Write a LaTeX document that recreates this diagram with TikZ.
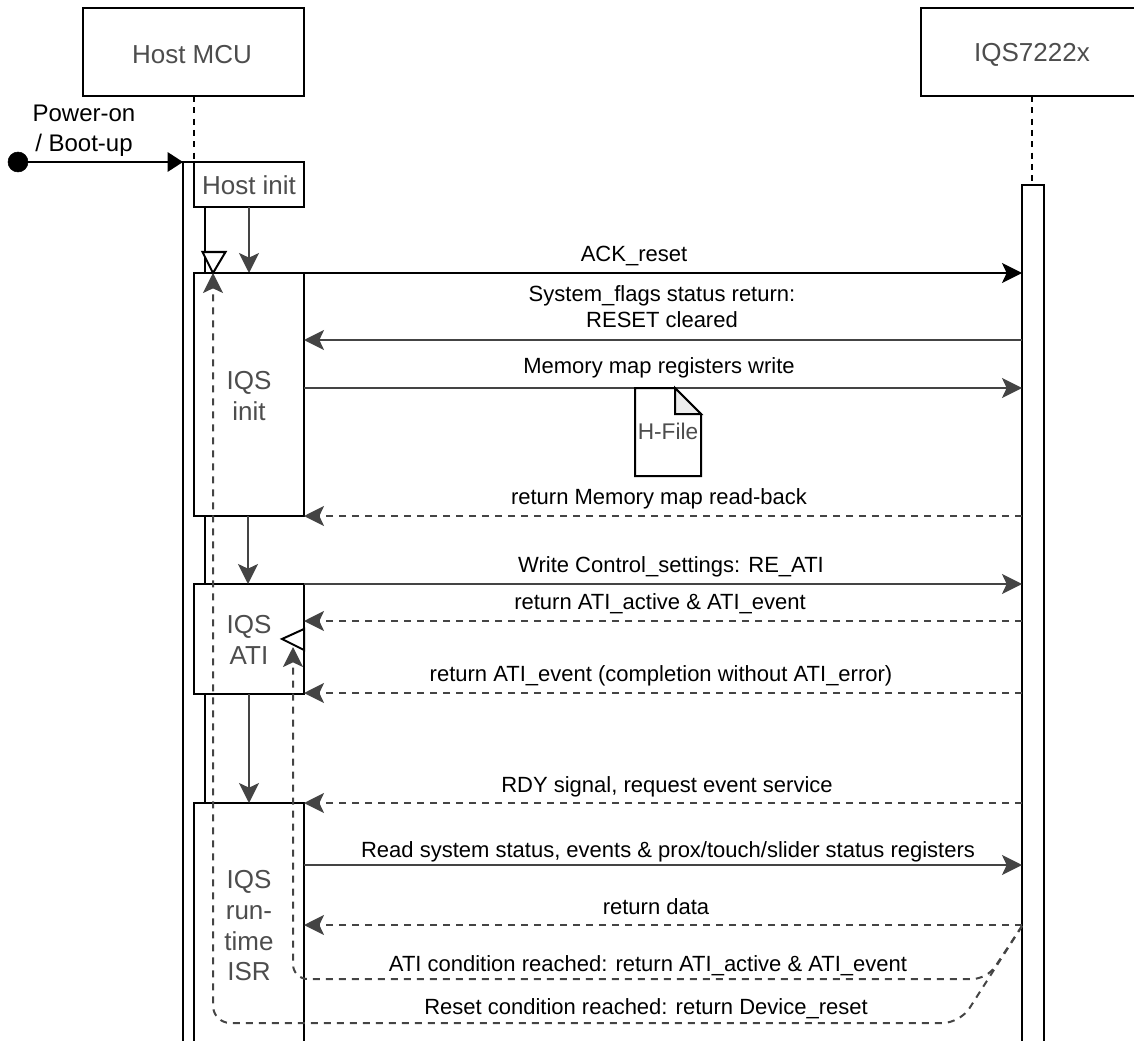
\documentclass[tikz,border=0pt]{standalone}
\usepackage{fontspec}
\setmainfont{Liberation Sans}
\usetikzlibrary{arrows.meta,calc}
\definecolor{edgegray}{HTML}{444444}
\definecolor{boxtext}{HTML}{4D4D4D}
\tikzset{
  barbox/.style={draw=black,line width=1.5pt,fill=white,inner sep=0pt,outer sep=0pt,anchor=north west},
  boxlabel/.style={text=boxtext,font=\fontsize{19.5}{23}\selectfont,align=center,inner sep=0pt},
  life/.style={draw=black,line width=1.5pt,dash pattern=on 4.5pt off 4pt},
  tip/.style={-{Stealth[length=15pt,width=15pt,inset=3.5pt]}},
  flow/.style={draw=edgegray,line width=1.5pt,tip},
  msg/.style={flow},
  ret/.style={flow,dash pattern=on 5.25pt off 4.5pt},
  lab/.style={font=\fontsize{16.5}{19.5}\selectfont,text=black,align=center,inner sep=0pt},
  openmark/.style={draw=black,line width=1.5pt,fill=white,line join=miter},
}
\begin{document}
\begin{tikzpicture}[x=0.75pt,y=-0.75pt]
\useasboundingbox (0,0) rectangle (1134,1041);
\clip (0,0) rectangle (1134,1041);
% head boxes
\node[barbox,minimum width=165.75pt,minimum height=66pt] (host) at (83,8) {};
\node[barbox,minimum width=165.75pt,minimum height=66pt] (dev) at (921,8) {};
\node[boxlabel] (hostt) at (192,55) {Host MCU};
\node[boxlabel] (devt) at (1032,55) {IQS7222x};
% activation bars
\node[barbox,minimum width=16.5pt,minimum height=675pt] (lbar) at (183,162) {};
\node[barbox,minimum width=16.5pt,minimum height=675pt] (rbar) at (1022,185) {};
% lifelines
\coordinate (lltop) at (194,162);
\coordinate (rltop) at (1032,185);
\draw[life] (host.south -| lltop) -- (lltop);
\draw[life] (dev.south -| rltop) -- (rltop);
% activity boxes
\node[barbox,minimum width=82.5pt,minimum height=33.75pt] (hinit) at (194,162) {};
\node[barbox,minimum width=82.5pt,minimum height=182.25pt] (init) at (194,273) {};
\node[barbox,minimum width=82.5pt,minimum height=82.5pt] (ati) at (194,584) {};
\node[barbox,minimum width=82.5pt,minimum height=225pt] (isr) at (194,803) {};
\node[boxlabel] (hinitt) at (249,185) {Host init};
\node[boxlabel] (initt) at (249,396) {IQS\\init};
\node[boxlabel] (atit) at (249,640) {IQS\\ATI};
\node[boxlabel] (isrt) at (249,926) {IQS\\run-\\time\\ISR};
% start
\node[circle,fill=black,draw=black,minimum size=15pt,inner sep=0pt,outer sep=0pt] (start) at (18,162) {};
\node[font=\fontsize{18}{22.5}\selectfont,align=center,inner sep=0pt] (power) at (84,131) {Power-on\\/ Boot-up};
\draw[line width=1.5pt,draw=black,-{Triangle[length=11.5pt,width=14.5pt]}] (start) -- (lbar.north west);
% flow between activity boxes
\coordinate (f1) at (249,0);
\coordinate (f2) at (248,0);
\draw[flow] (hinit.south -| f1) -- (init.north -| f1);
\draw[flow] (init.south -| f2) -- (ati.north -| f2);
\draw[flow] (ati.south -| f1) -- (isr.north -| f1);
% messages
\coordinate (xl) at (205,273);
\coordinate (m2) at (0,340);
\coordinate (m3) at (0,388);
\coordinate (m4) at (0,516);
\coordinate (m5) at (0,584);
\coordinate (m6) at (0,621);
\coordinate (m7) at (0,693);
\coordinate (m8) at (0,803);
\coordinate (m9) at (0,865);
\coordinate (m10) at (0,925);
\draw[line width=1.5pt,draw=black,tip] (xl) -- (rbar.west |- xl);
\draw[msg] (rbar.west |- m2) -- (init.east |- m2);
\draw[msg] (init.east |- m3) -- (rbar.west |- m3);
\draw[ret] (rbar.west |- m4) -- (init.east |- m4);
\draw[msg] (ati.east |- m5) -- (rbar.west |- m5);
\draw[ret] (rbar.west |- m6) -- (ati.east |- m6);
\draw[ret] (rbar.west |- m7) -- (ati.east |- m7);
\draw[ret] (rbar.west |- m8) -- (isr.east |- m8);
\draw[msg] (isr.east |- m9) -- (rbar.west |- m9);
\draw[ret] (rbar.west |- m10) -- (isr.east |- m10);
% open markers
\coordinate (tipa) at (213,273);
\coordinate (tipb) at (293,647);
\draw[openmark] (tipa) -- (202.5,252) -- (225.5,252) -- cycle;
\draw[openmark] (282,639) -- (ati.east |- 0,629) -- (ati.east |- 0,650) -- cycle;
% condition returns
\coordinate (src) at (1022,926);
\draw[ret,rounded corners=11pt] (src) -- (987,979) -- (293,979) -- (tipb);
\draw[ret,rounded corners=13pt] (src) -- (960,1023) -- (213,1023) -- (tipa);
% H-file
\coordinate (hf1) at (635,388);
\coordinate (hf2) at (675,388);
\coordinate (hf3) at (701,414);
\coordinate (hf4) at (701,476);
\coordinate (hf5) at (635,476);
\draw[black,line width=1.5pt,fill=white,line join=miter] (hf1) -- (hf2) -- (hf3) -- (hf4) -- (hf5) -- cycle;
\draw[black,line width=1.5pt,fill=black!7,line join=miter] (hf2) -- (hf3) -- (hf2 |- hf3) -- cycle;
\node[text=boxtext,font=\fontsize{17}{20}\selectfont,inner sep=0pt] (hfile) at (668,431) {H-File};
% labels
\node[lab] (l1) at (634,256) {ACK\_reset};
\node[lab] (l2) at (662,307) {System\_flags status return:\\RESET cleared};
\node[lab] (l3) at (659,368) {Memory map registers write};
\node[lab] (l4) at (659,499) {return Memory map read-back};
\node[lab] (l5) at (671,566.5) {Write Control\_settings: RE\_ATI};
\node[lab] (l6) at (660,604) {return ATI\_active \& ATI\_event};
\node[lab] (l7) at (661,676) {return ATI\_event (completion without ATI\_error)};
\node[lab] (l8) at (667,787) {RDY signal, request event service};
\node[lab] (l9) at (668,852) {Read system status, events \& prox/touch/slider status registers};
\node[lab] (l10) at (656,907) {return data};
\node[lab] (l11) at (648,966) {ATI condition reached: return ATI\_active \& ATI\_event};
\node[lab] (l12) at (646,1009) {Reset condition reached: return Device\_reset};
\end{tikzpicture}
\end{document}
